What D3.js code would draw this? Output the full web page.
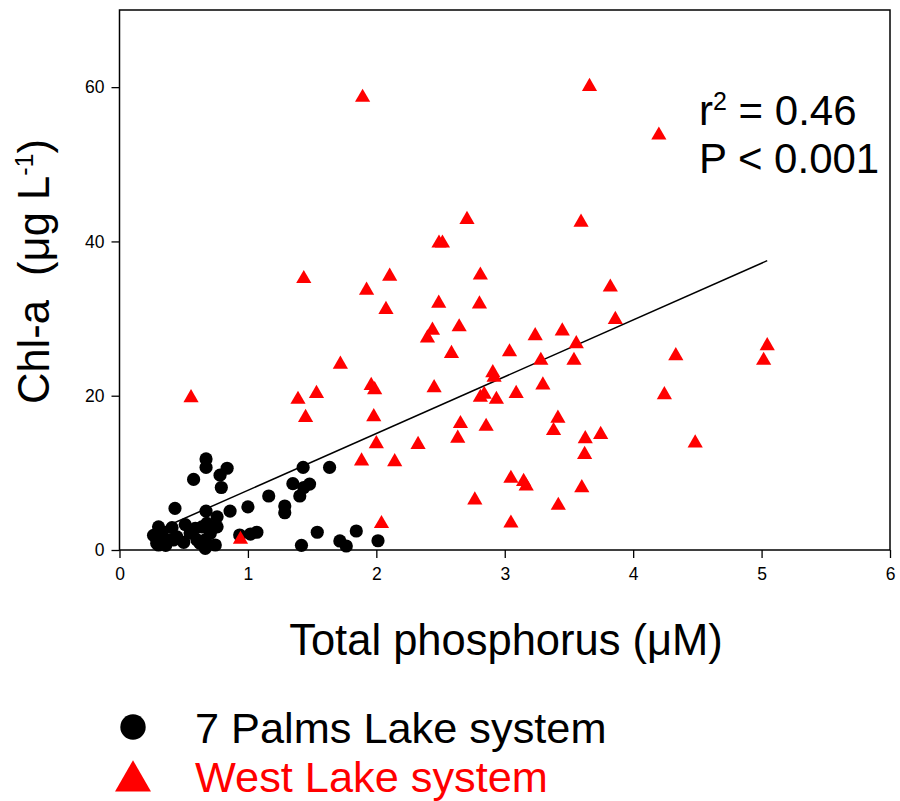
<!DOCTYPE html>
<html>
<head>
<meta charset="utf-8">
<script src="https://cdn.jsdelivr.net/npm/d3@7"></script>
<style>
  html, body { margin: 0; padding: 0; background: #fff; }
  svg text { font-family: Arial, "Liberation Sans", sans-serif; }
</style>
</head>
<body>
<svg id="chart" width="900" height="801"></svg>
<script>
// ---- data ----
const palmsTP = [0.674,0.674,0.838,0.783,0.793,0.577,1.43,1.636,1.35,1.48,1.435,1.404,1.162,1.287,1.287,0.432,1.0,0.861,0.674,0.76,0.76,0.68,0.512,0.409,0.304,0.265,0.29,0.343,0.42,0.447,0.59,0.604,0.668,0.668,0.746,0.707,0.936,1.02,1.07,1.417,1.54,1.716,1.766,1.844,2.013,0.304,0.38,0.642,0.627,0.33,0.36,0.5,0.55];
const palmsChl = [11.8,10.7,10.6,9.7,8.1,9.15,10.7,10.7,8.6,8.55,8.1,7.0,7.0,5.7,4.83,5.4,5.6,5.05,5.05,4.3,3.0,3.45,3.3,2.9,3.0,1.9,0.87,1.3,1.3,1.7,2.8,1.3,0.22,1.3,0.65,2.16,1.94,2.07,2.3,0.6,2.3,1.17,0.52,2.46,1.2,0.65,1.3,3.0,0.87,2.3,0.6,1.0,2.2];

const westTP = [0.557,0.942,1.893,3.66,4.2,2.706,2.488,2.515,1.435,2.104,2.81,1.924,2.075,2.486,2.803,2.437,2.398,2.645,2.585,2.907,2.917,1.72,1.39,1.534,1.96,1.987,2.45,2.81,2.84,2.935,1.449,1.98,3.822,3.861,3.237,3.448,3.557,3.037,3.281,3.539,4.332,5.044,5.016,3.089,3.297,4.243,2.655,2.855,2.634,3.414,3.38,3.627,3.747,3.622,4.483,3.048,3.147,3.167,3.6,2.767,3.417,3.048,2.0,1.885,2.143,2.04,2.325,3.594];
const westChl = [19.86,1.5,58.8,60.2,53.9,42.97,39.9,39.9,35.3,35.6,35.75,33.8,31.3,32.1,32.0,28.6,27.6,29.05,25.6,23.1,22.5,24.2,19.65,20.4,21.45,20.9,21.15,19.9,20.3,19.65,17.3,17.4,34.2,30.0,27.9,28.5,26.85,25.8,24.7,24.7,25.3,26.6,24.7,20.4,21.5,20.25,16.5,16.15,14.6,17.2,15.6,14.55,15.1,12.5,14.0,9.4,9.0,8.4,8.2,6.6,5.9,3.6,13.9,11.65,11.57,3.54,13.8,42.6];

const fitCoef = [0.38, 7.36];          // intercept, slope of the regression line
const xTicks = [0, 1, 2, 3, 4, 5, 6];
const yTicks = [0, 20, 40, 60];
const xDomain = [0, 6];
const yDomain = [0, 70];
const seriesNames = ["7 Palms Lake system", "West Lake system"];
const statsText = ["0.46", "P < 0.001"];

// ---- layout ----
const svg = d3.select("#chart");
const L = 119.5, R = 890, T = 10, B = 550;
const x = d3.scaleLinear().domain(xDomain).range([L, R]);
const y = d3.scaleLinear().domain(yDomain).range([B, T]);

// frame
svg.append("rect").attr("x", L).attr("y", T).attr("width", R - L).attr("height", B - T)
  .attr("fill", "none").attr("stroke", "#000").attr("stroke-width", 1.5);

// axes
const xAxis = svg.append("g").attr("transform", `translate(0,${B})`)
  .call(d3.axisBottom(x).tickValues(xTicks).tickFormat(d3.format("d")).tickSize(8).tickSizeOuter(0).tickPadding(10));
const yAxis = svg.append("g").attr("transform", `translate(${L},0)`)
  .call(d3.axisLeft(y).tickValues(yTicks).tickFormat(d3.format("d")).tickSize(8).tickSizeOuter(0).tickPadding(7));
[xAxis, yAxis].forEach(g => {
  g.select(".domain").remove();
  g.selectAll("line").attr("stroke", "#000").attr("stroke-width", 1.3);
  g.selectAll("text").attr("font-size", 17.5).attr("fill", "#000")
   .attr("font-family", 'Arial, "Liberation Sans", sans-serif');
});

// regression line (under markers)
const allTP = palmsTP.concat(westTP);
const xr = d3.extent(allTP);
const fit = xr.map(v => ({ tp: v, chl: fitCoef[0] + fitCoef[1] * v }));
svg.append("path").datum(fit)
  .attr("d", d3.line().x(d => x(d.tp)).y(d => y(d.chl)))
  .attr("fill", "none").attr("stroke", "#000").attr("stroke-width", 1.5);

// 7 Palms: black circles
svg.append("g").selectAll("circle").data(palmsTP.map((v, i) => [v, palmsChl[i]]))
  .join("circle").attr("cx", d => x(d[0])).attr("cy", d => y(d[1])).attr("r", 6.6)
  .attr("fill", "#000");

// West Lake: red triangles
const tri = d3.symbol().type(d3.symbolTriangle).size(100);
svg.append("g").selectAll("path").data(westTP.map((v, i) => [v, westChl[i]]))
  .join("path").attr("d", tri)
  .attr("transform", d => `translate(${x(d[0])},${y(d[1]) + 1})`)
  .attr("fill", "#ff0000");

// stats text
const st = svg.append("text").attr("x", 699).attr("y", 125).attr("font-size", 42).attr("fill", "#000");
st.append("tspan").text("r");
st.append("tspan").attr("font-size", 25).attr("dy", -15).text("2");
st.append("tspan").attr("dy", 15).text(" = " + statsText[0]);
svg.append("text").attr("x", 699).attr("y", 173).attr("font-size", 42).attr("fill", "#000").text(statsText[1]);

// axis titles
svg.append("text").attr("x", 506).attr("y", 655).attr("text-anchor", "middle")
  .attr("font-size", 43.5).attr("fill", "#000").text("Total phosphorus (μM)");
const yl = svg.append("text").attr("transform", "translate(49,404) rotate(-90)")
  .attr("font-size", 43.5).attr("fill", "#000").style("white-space", "pre");
yl.append("tspan").text("Chl-a  (μg L");
yl.append("tspan").attr("font-size", 25).attr("dy", -16).text("-1");
yl.append("tspan").attr("dy", 16).text(")");

// legend
const lg = svg.append("g");
lg.append("circle").attr("cx", 133).attr("cy", 727).attr("r", 12.7).attr("fill", "#000");
lg.append("path").attr("d", d3.symbol().type(d3.symbolTriangle).size(560))
  .attr("transform", "translate(133,781)").attr("fill", "#ff0000");
lg.append("text").attr("x", 195).attr("y", 743).attr("font-size", 43.3).attr("fill", "#000").text(seriesNames[0]);
lg.append("text").attr("x", 195).attr("y", 792).attr("font-size", 43.3).attr("fill", "#ff0000").text(seriesNames[1]);
</script>
</body>
</html>
